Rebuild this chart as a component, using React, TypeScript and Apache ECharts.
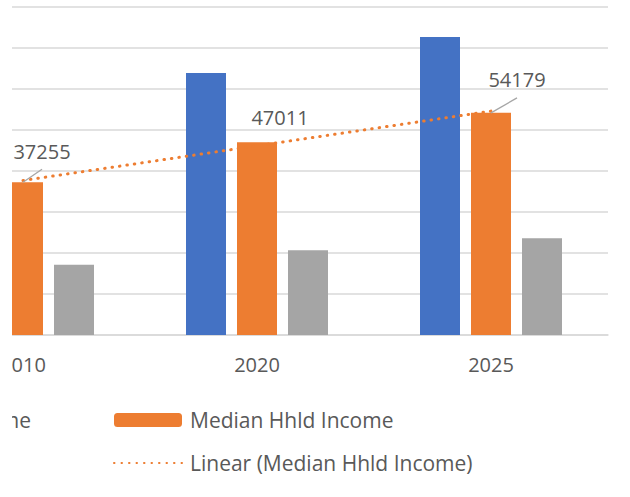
import { useEffect, useRef } from 'react';
import * as echarts from 'echarts';

const categories = ['2010', '2020', '2025'];
const averageHhldIncome = [51000, 63900, 72700];
const medianHhldIncome = [37255, 47011, 54179];
const perCapitaIncome = [17150, 20700, 23600];
const yMin = 0;
const yMax = 80000;
const yInterval = 10000;

// Median Hhld Income data label centre, relative to the top-centre of its bar
const labelCentre = [
  [19, -31],
  [23, -25],
  [26, -33],
];
const showLeader = [true, false, true];

function linearTrend(values: number[]): number[] {
  const n = values.length;
  const xs = values.map((_, i) => i);
  const mx = xs.reduce((a, b) => a + b, 0) / n;
  const my = values.reduce((a, b) => a + b, 0) / n;
  let num = 0;
  let den = 0;
  for (let i = 0; i < n; i++) {
    num += (xs[i] - mx) * (values[i] - my);
    den += (xs[i] - mx) * (xs[i] - mx);
  }
  const slope = num / den;
  return xs.map((x) => my + slope * (x - mx));
}

const FONT = '"Open Sans", "Noto Sans", sans-serif';
const TEXT = '#595959';

export default function App() {
  const ref = useRef<HTMLDivElement>(null);
  useEffect(() => {
    if (!ref.current) return;
    const chart = echarts.init(ref.current, undefined, { renderer: 'svg' });
    const legendText = { fontSize: 21, color: TEXT, fontFamily: FONT, lineHeight: 24, padding: [0, 0, 0, 3] };
    chart.setOption({
      animation: false,
      backgroundColor: 'transparent',
      textStyle: { fontFamily: FONT },
      grid: { left: 206, right: 92, top: 7, bottom: 162, containLabel: false },
      legend: [
        {
          orient: 'vertical',
          right: 664,
          top: 403,
          align: 'left',
          itemWidth: 68,
          itemHeight: 14,
          itemGap: 19,
          data: ['Average Hhld Income', 'Per Capita Income'],
          textStyle: legendText,
        },
        {
          orient: 'vertical',
          left: 408,
          top: 403,
          align: 'left',
          itemWidth: 68,
          itemHeight: 14,
          itemGap: 19,
          data: [
            'Median Hhld Income',
            { name: 'Linear (Median Hhld Income)', itemStyle: { opacity: 0 } },
          ],
          textStyle: legendText,
        },
      ],
      xAxis: {
        type: 'category',
        data: categories,
        axisLine: { lineStyle: { color: '#d9d9d9', width: 1.5 } },
        axisTick: { show: false },
        axisLabel: { fontSize: 20, color: TEXT, fontFamily: FONT, margin: 19 },
      },
      yAxis: {
        type: 'value',
        min: yMin,
        max: yMax,
        interval: yInterval,
        axisLabel: { show: false },
        axisLine: { show: false },
        axisTick: { show: false },
        splitLine: { lineStyle: { color: '#d9d9d9', width: 1.5 } },
      },
      series: [
        {
          name: 'Average Hhld Income',
          type: 'bar',
          data: averageHhldIncome,
          barWidth: 40,
          barGap: '27.5%',
          itemStyle: { color: '#4472C4' },
        },
        {
          name: 'Median Hhld Income',
          type: 'bar',
          data: medianHhldIncome,
          barWidth: 40,
          barGap: '27.5%',
          itemStyle: { color: '#ED7D31' },
          label: {
            show: true,
            position: 'top',
            fontSize: 20,
            color: TEXT,
            fontFamily: FONT,
          },
          labelLayout: (p: any) => ({
            x: p.rect.x + p.rect.width / 2 + labelCentre[p.dataIndex][0],
            y: p.rect.y + labelCentre[p.dataIndex][1],
            align: 'center',
            verticalAlign: 'middle',
          }),
          z: 3,
        },
        {
          name: 'Per Capita Income',
          type: 'bar',
          data: perCapitaIncome,
          barWidth: 40,
          barGap: '27.5%',
          itemStyle: { color: '#A5A5A5' },
        },
        {
          name: 'Linear (Median Hhld Income)',
          type: 'line',
          data: linearTrend(medianHhldIncome),
          symbol: 'none',
          z: 5,
          itemStyle: { color: '#ED7D31' },
          lineStyle: { color: '#ED7D31', width: 3, type: [0.5, 7], cap: 'round' },
          silent: true,
        },
      ],
    });

    // leader lines from the displaced labels back to their bars
    const leaders: any[] = [];
    medianHhldIncome.forEach((v, i) => {
      if (!showLeader[i]) return;
      const pt = chart.convertToPixel({ seriesIndex: 1 }, [i, v]) as number[];
      if (!pt) return;
      const [cx, top] = pt;
      leaders.push({
        type: 'line',
        z: 10,
        shape: {
          x1: cx + labelCentre[i][0],
          y1: top + labelCentre[i][1] + 18,
          x2: cx,
          y2: top,
        },
        style: { stroke: '#a6a6a6', lineWidth: 1.3 },
        silent: true,
      });
    });
    chart.setOption({ graphic: leaders });
    return () => chart.dispose();
  }, []);
  return (
    <div
      style={{
        position: 'absolute',
        left: 12,
        top: 0,
        width: 618,
        height: 497,
        overflow: 'hidden',
        background: '#fff',
      }}
    >
      <div ref={ref} style={{ position: 'absolute', left: -312, top: 0, width: 1000, height: 497 }} />
    </div>
  );
}
